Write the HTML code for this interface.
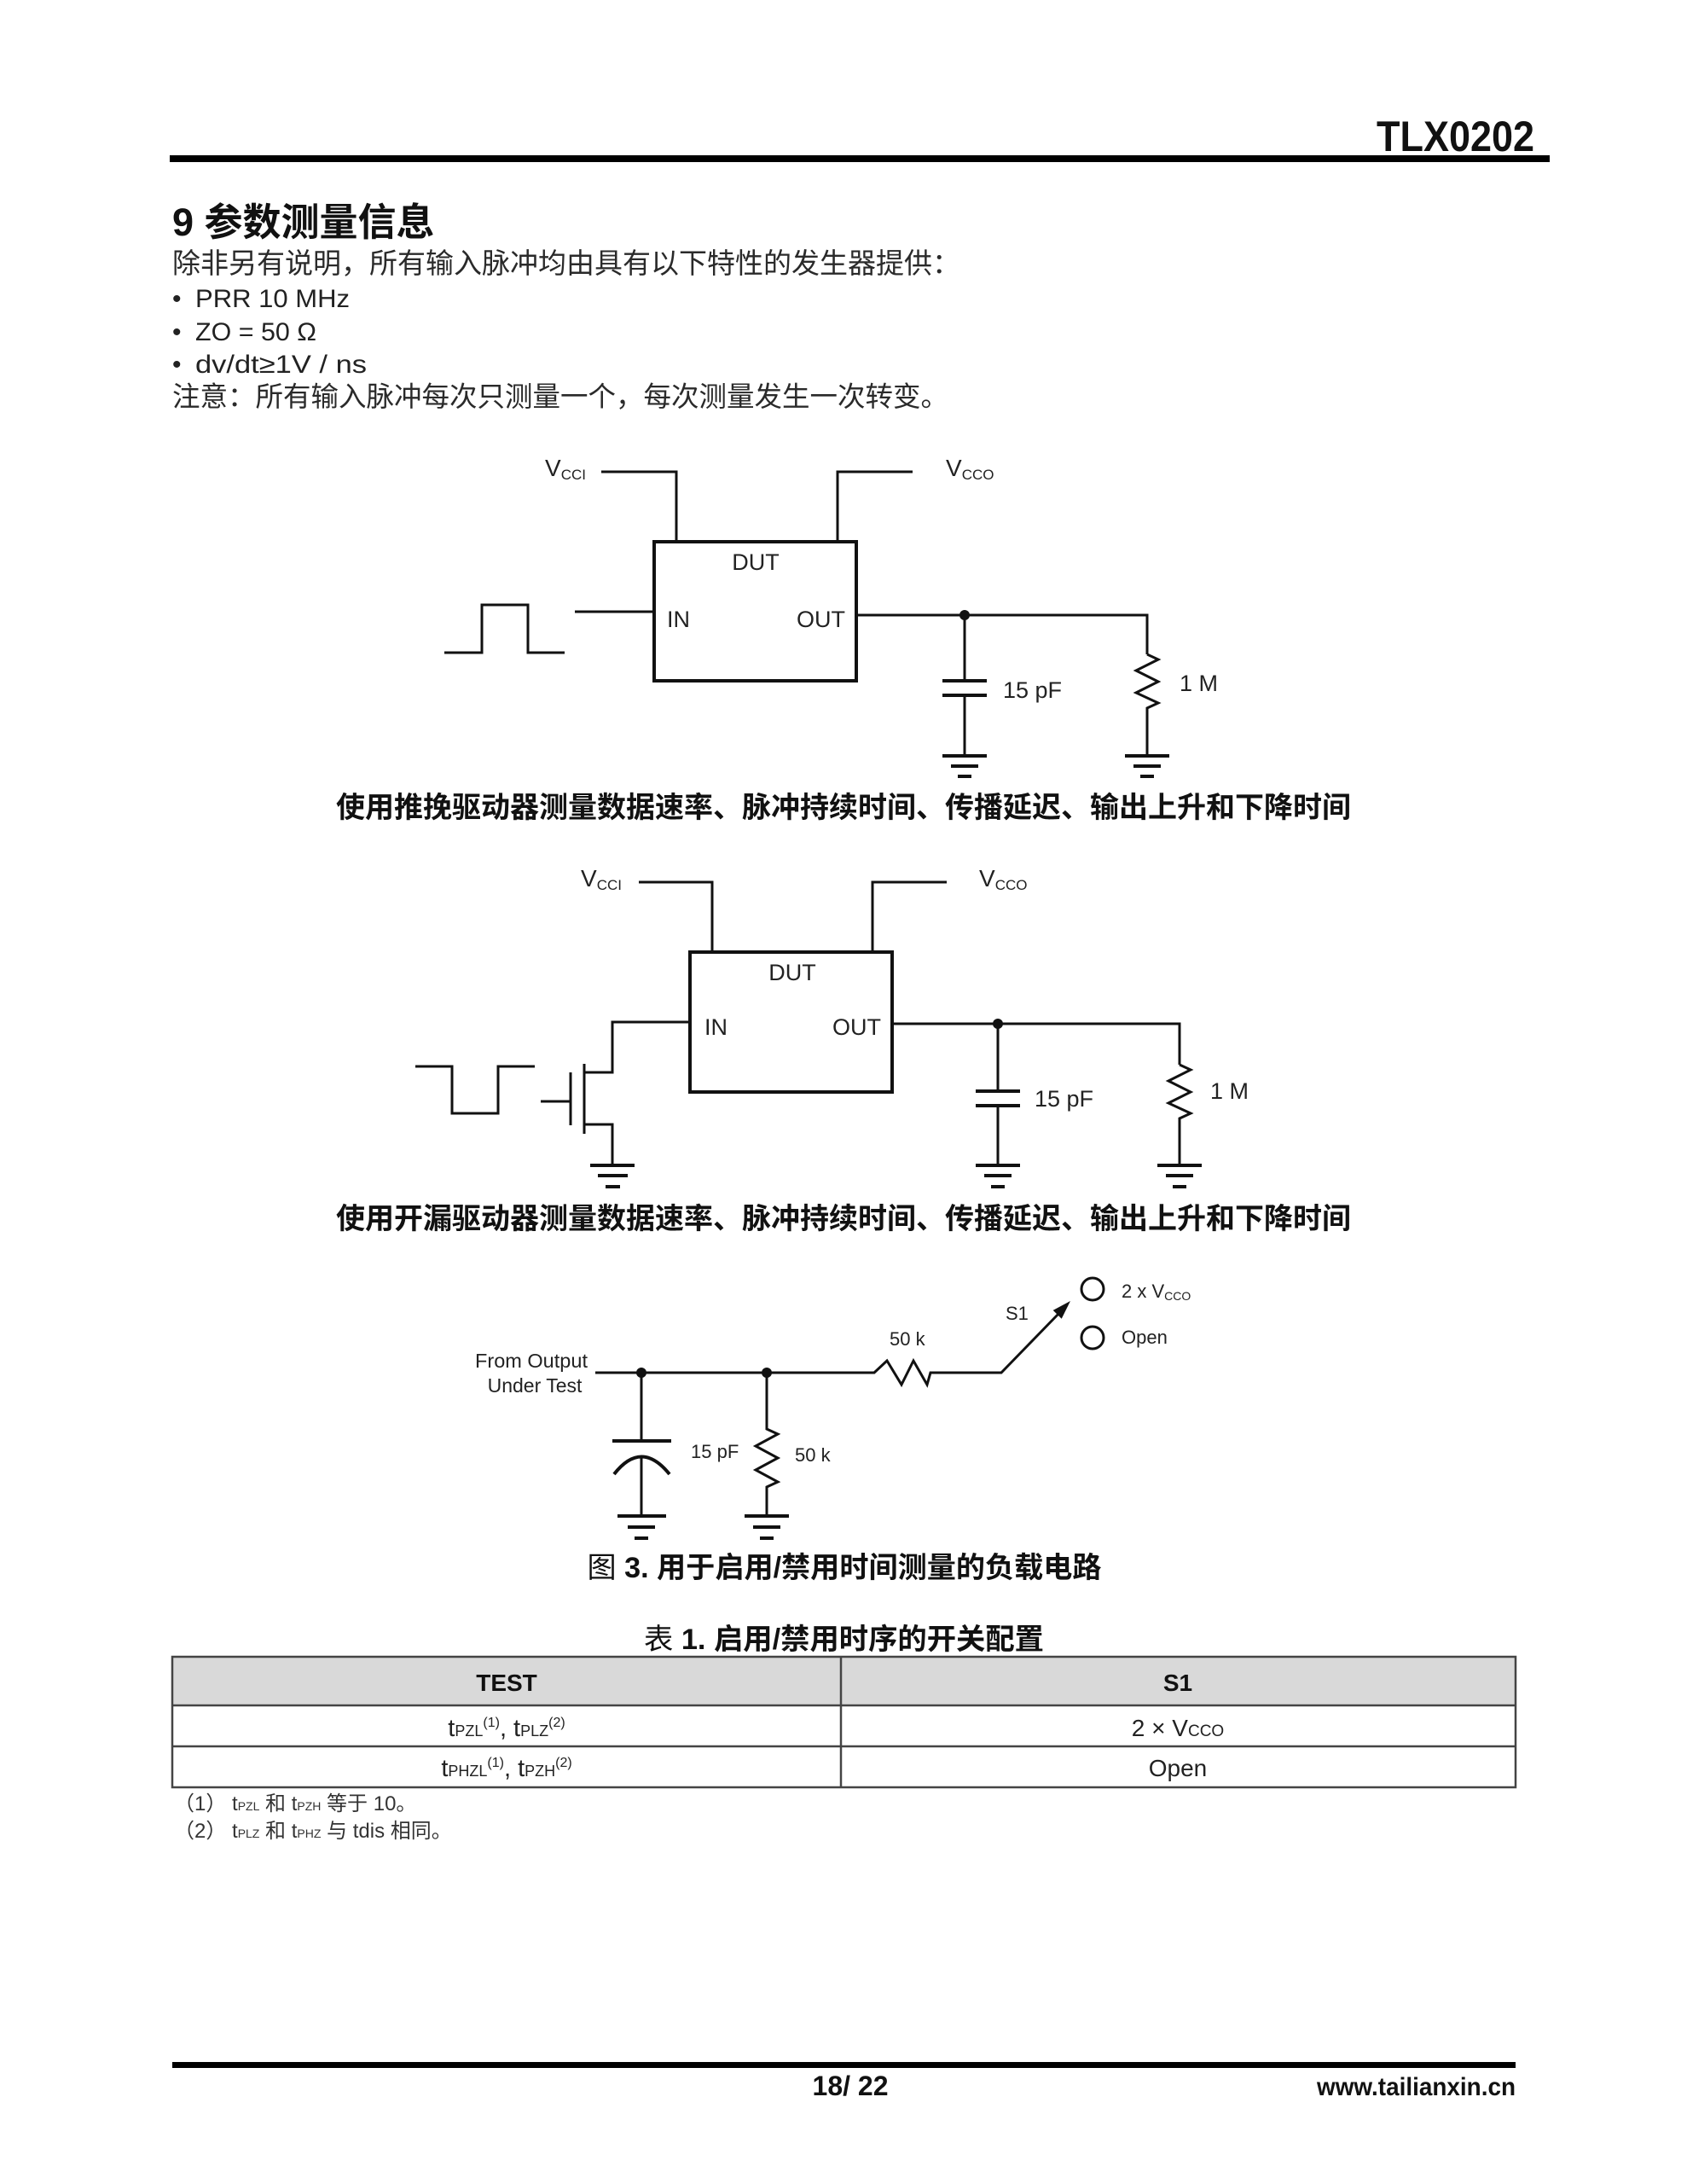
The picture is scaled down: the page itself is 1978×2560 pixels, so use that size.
<!DOCTYPE html>
<html>
<head>
<meta charset="utf-8">
<style>
html,body{margin:0;padding:0;background:#fff;}
svg{display:block;}
text{font-family:"Liberation Sans","Noto Sans CJK SC",sans-serif;fill:#222;}
</style>
</head>
<body>
<svg width="1978" height="2560" viewBox="0 0 1978 2560" xmlns="http://www.w3.org/2000/svg">
<rect width="1978" height="2560" fill="#fff"/>

<!-- Header -->
<text x="1799" y="177" text-anchor="end" font-size="50" font-weight="bold" textLength="185" lengthAdjust="spacingAndGlyphs" style="fill:#111">TLX0202</text>
<rect x="199" y="182" width="1618" height="8" fill="#000"/>

<!-- Section text -->
<text x="202" y="276" font-size="45" font-weight="bold" style="fill:#111">9 参数测量信息</text>
<text x="202" y="320" font-size="33" style="fill:#2a2a2a">除非另有说明，所有输入脉冲均由具有以下特性的发生器提供：</text>
<text x="202" y="360" font-size="30">•</text>
<text x="229" y="360" font-size="30" textLength="181" lengthAdjust="spacingAndGlyphs">PRR 10 MHz</text>
<text x="202" y="399" font-size="30">•</text>
<text x="229" y="399" font-size="30" textLength="142" lengthAdjust="spacingAndGlyphs">ZO = 50 Ω</text>
<text x="202" y="437" font-size="30">•</text>
<text x="229" y="437" font-size="30" textLength="201" lengthAdjust="spacingAndGlyphs">dv/dt≥1V / ns</text>
<text x="202" y="476" font-size="32.5" style="fill:#2a2a2a">注意：所有输入脉冲每次只测量一个，每次测量发生一次转变。</text>

<!-- Diagram 1 -->
<g fill="none" stroke="#111" stroke-width="3" stroke-linejoin="miter">
  <path d="M705,553 H793 V635"/>
  <path d="M1070,553 H982 V635"/>
  <rect x="767" y="635" width="237" height="163" stroke-width="4"/>
  <path d="M674,717 H767"/>
  <path d="M521,765 H565 V709 H619 V765 H662"/>
  <path d="M1004,721 H1345 V767"/>
  <path d="M1131,721 V798"/>
  <path d="M1105,798 H1157 M1105,815 H1157" stroke-width="4"/>
  <path d="M1131,815 V886"/>
  <path d="M1105,886 H1157 M1115,898 H1147 M1123,910 H1139" stroke-width="4"/>
  <path d="M1345,767 L1358,773 L1332,786 L1358,799 L1332,812 L1358,824 L1345,830 V886"/>
  <path d="M1319,886 H1371 M1329,898 H1361 M1337,910 H1353" stroke-width="4"/>
</g>
<circle cx="1131" cy="721" r="6" fill="#111"/>
<text x="639" y="558" font-size="28">V<tspan font-size="17" dy="4">CCI</tspan></text>
<text x="1109" y="558" font-size="28">V<tspan font-size="17" dy="4">CCO</tspan></text>
<text x="886" y="668" font-size="27" text-anchor="middle">DUT</text>
<text x="782" y="735" font-size="27">IN</text>
<text x="991" y="735" font-size="27" text-anchor="end">OUT</text>
<text x="1176" y="818" font-size="27">15 pF</text>
<text x="1383" y="810" font-size="27">1 M</text>
<text x="989" y="958" font-size="34" font-weight="bold" text-anchor="middle" textLength="1190" lengthAdjust="spacingAndGlyphs" style="fill:#111">使用推挽驱动器测量数据速率、脉冲持续时间、传播延迟、输出上升和下降时间</text>

<!-- Diagram 2 -->
<g fill="none" stroke="#111" stroke-width="3">
  <path d="M749,1034 H835 V1116"/>
  <path d="M1110,1034 H1023 V1116"/>
  <rect x="809" y="1116" width="237" height="164" stroke-width="4"/>
  <path d="M809,1198 H718 V1257 H685"/>
  <path d="M685,1247 V1329"/>
  <path d="M669,1257 V1319"/>
  <path d="M634,1291 H669"/>
  <path d="M685,1318 H718 V1366"/>
  <path d="M692,1366 H744 M701,1378 H736 M710,1391 H727" stroke-width="4"/>
  <path d="M487,1250 H530 V1305 H584 V1250 H627"/>
  <path d="M1046,1200 H1383 V1248"/>
  <path d="M1170,1200 V1279"/>
  <path d="M1144,1279 H1196 M1144,1296 H1196" stroke-width="4"/>
  <path d="M1170,1296 V1366"/>
  <path d="M1144,1366 H1196 M1154,1378 H1186 M1162,1391 H1178" stroke-width="4"/>
  <path d="M1383,1248 L1396,1254 L1370,1267 L1396,1280 L1370,1293 L1396,1305 L1383,1311 V1366"/>
  <path d="M1357,1366 H1409 M1367,1378 H1399 M1375,1391 H1391" stroke-width="4"/>
</g>
<circle cx="1170" cy="1200" r="6" fill="#111"/>
<text x="681" y="1039" font-size="28">V<tspan font-size="17" dy="4">CCI</tspan></text>
<text x="1148" y="1039" font-size="28">V<tspan font-size="17" dy="4">CCO</tspan></text>
<text x="929" y="1149" font-size="27" text-anchor="middle">DUT</text>
<text x="826" y="1213" font-size="27">IN</text>
<text x="1033" y="1213" font-size="27" text-anchor="end">OUT</text>
<text x="1213" y="1297" font-size="27">15 pF</text>
<text x="1419" y="1288" font-size="27">1 M</text>
<text x="989" y="1440" font-size="34" font-weight="bold" text-anchor="middle" textLength="1190" lengthAdjust="spacingAndGlyphs" style="fill:#111">使用开漏驱动器测量数据速率、脉冲持续时间、传播延迟、输出上升和下降时间</text>

<!-- Diagram 3 -->
<g fill="none" stroke="#111" stroke-width="3">
  <path d="M698,1609 H1025 L1040,1595 L1057,1623 L1071,1595 L1087,1623 L1091,1609 H1174 L1243,1538"/>
  <path d="M752,1609 V1689"/>
  <path d="M718,1689 H787" stroke-width="4"/>
  <path d="M720,1728 Q752,1687 785,1728" stroke-width="4"/>
  <path d="M752,1707 V1777"/>
  <path d="M724,1777 H781 M736,1790 H768 M744,1803 H760" stroke-width="4"/>
  <path d="M899,1609 V1675 L912,1681 L886,1695 L912,1709 L886,1723 L912,1737 L899,1743 V1777"/>
  <path d="M873,1777 H925 M883,1790 H915 M891,1803 H907" stroke-width="4"/>
  <circle cx="1281" cy="1511" r="13"/>
  <circle cx="1281" cy="1568" r="13"/>
</g>
<polygon points="1255,1525 1244.7,1545.7 1234.7,1535.9" fill="#111"/>
<circle cx="752" cy="1609" r="6" fill="#111"/>
<circle cx="899" cy="1609" r="6" fill="#111"/>
<text x="623" y="1603" font-size="23" text-anchor="middle" textLength="132" lengthAdjust="spacingAndGlyphs">From Output</text>
<text x="627" y="1632" font-size="23" text-anchor="middle">Under Test</text>
<text x="1043" y="1577" font-size="22">50 k</text>
<text x="1179" y="1547" font-size="22">S1</text>
<text x="1315" y="1521" font-size="22">2 x V<tspan font-size="14" dy="3">CCO</tspan></text>
<text x="1315" y="1575" font-size="22">Open</text>
<text x="810" y="1709" font-size="22">15 pF</text>
<text x="932" y="1713" font-size="22">50 k</text>
<text x="990" y="1849" font-size="34" font-weight="bold" text-anchor="middle" textLength="603" lengthAdjust="spacingAndGlyphs" style="fill:#111"><tspan font-weight="normal">图</tspan> 3. 用于启用/禁用时间测量的负载电路</text>

<!-- Table -->
<text x="989.5" y="1933" font-size="34" font-weight="bold" text-anchor="middle" textLength="469" lengthAdjust="spacingAndGlyphs" style="fill:#111"><tspan font-weight="normal">表</tspan> 1. 启用/禁用时序的开关配置</text>
<rect x="202" y="1942" width="1575" height="57" fill="#d9d9d9"/>
<g fill="none" stroke="#444" stroke-width="2.5">
  <rect x="202" y="1942" width="1575" height="153"/>
  <path d="M202,1999 H1777 M202,2047 H1777 M986,1942 V2095"/>
</g>
<text x="594" y="1982" font-size="28" font-weight="bold" text-anchor="middle" style="fill:#111">TEST</text>
<text x="1381" y="1982" font-size="28" font-weight="bold" text-anchor="middle" style="fill:#111">S1</text>
<text x="594" y="2035" font-size="29" text-anchor="middle">t<tspan font-size="18">PZL</tspan><tspan font-size="16" dy="-11">(1)</tspan><tspan dy="11">, t</tspan><tspan font-size="18">PLZ</tspan><tspan font-size="16" dy="-11">(2)</tspan></text>
<text x="594" y="2082" font-size="29" text-anchor="middle">t<tspan font-size="18">PHZL</tspan><tspan font-size="16" dy="-11">(1)</tspan><tspan dy="11">, t</tspan><tspan font-size="18">PZH</tspan><tspan font-size="16" dy="-11">(2)</tspan></text>
<text x="1381" y="2035" font-size="28" text-anchor="middle">2 × V<tspan font-size="19">CCO</tspan></text>
<text x="1381" y="2082" font-size="28" text-anchor="middle">Open</text>

<!-- Notes -->
<text x="204" y="2122" font-size="24" style="fill:#333">（1） t<tspan font-size="14">PZL</tspan> 和 t<tspan font-size="14">PZH</tspan> 等于 10。</text>
<text x="204" y="2154" font-size="24" style="fill:#333">（2） t<tspan font-size="14">PLZ</tspan> 和 t<tspan font-size="14">PHZ</tspan> 与 tdis 相同。</text>

<!-- Footer -->
<rect x="202" y="2417" width="1575" height="7" fill="#000"/>
<text x="997" y="2456" font-size="32" font-weight="bold" text-anchor="middle" style="fill:#111">18/ 22</text>
<text x="1777" y="2456" font-size="30" font-weight="bold" text-anchor="end" textLength="233" lengthAdjust="spacingAndGlyphs" style="fill:#111">www.tailianxin.cn</text>
</svg>
</body>
</html>
